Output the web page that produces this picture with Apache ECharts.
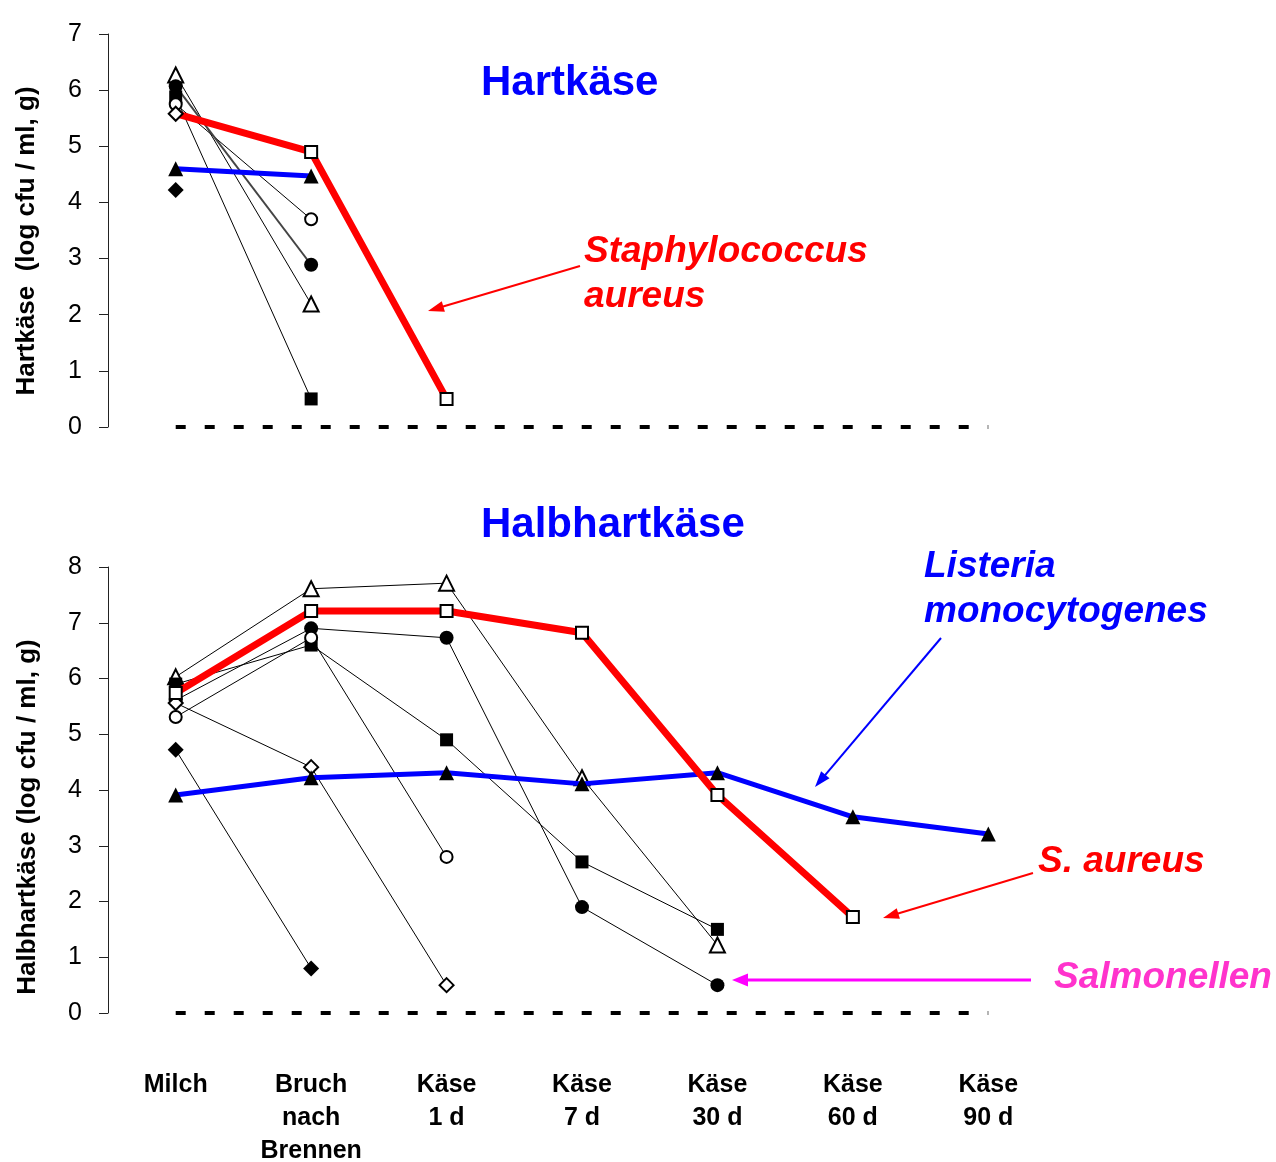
<!DOCTYPE html>
<html>
<head>
<meta charset="utf-8">
<script src="https://cdn.jsdelivr.net/npm/echarts@6/dist/echarts.min.js"></script>
<style>
html,body{margin:0;padding:0;background:#fff;}
#chart{width:1276px;height:1162px;}
</style>
</head>
<body>
<div id="chart"></div>
<script>
// ---------- data ----------
const categories = ['Milch', 'Bruch\nnach\nBrennen', 'Käse\n1 d', 'Käse\n7 d', 'Käse\n30 d', 'Käse\n60 d', 'Käse\n90 d'];
const zeroLine = [0, 0, 0, 0, 0, 0, 0];

// Hartkäse (top panel)
const hartSaureus       = [5.58, 4.90, 0.50, null, null, null, null];
const hartListeria      = [4.60, 4.47, null, null, null, null, null];
const hartOpenTri       = [6.27, 2.19, null, null, null, null, null];
const hartFilledCircle  = [6.07, 2.89, null, null, null, null, null];
const hartFilledSquare  = [5.88, 0.50, null, null, null, null, null];
const hartOpenCircle    = [5.75, 3.70, null, null, null, null, null];
const hartOpenDiamond   = [5.58, null, null, null, null, null, null];
const hartFilledDiamond = [4.22, null, null, null, null, null, null];

// Halbhartkäse (bottom panel)
const halbSaureus       = [5.74, 7.21, 7.21, 6.82, 3.91, 1.72, null];
const halbListeria      = [3.91, 4.22, 4.31, 4.11, 4.31, 3.52, 3.21];
const halbOpenTri       = [6.03, 7.61, 7.71, 4.22, 1.22, null, null];
const halbFilledCircle  = [5.61, 6.90, 6.73, 1.90, 0.50, null, null];
const halbFilledSquare  = [5.90, 6.60, 4.90, 2.71, 1.50, null, null];
const halbOpenCircle    = [5.31, 6.73, 2.80, null, null, null, null];
const halbOpenDiamond   = [5.56, 4.41, 0.50, null, null, null, null];
const halbFilledDiamond = [4.72, 0.80, null, null, null, null, null];

const topTicks = {min: 0, max: 7, interval: 1};
const bottomTicks = {min: 0, max: 8, interval: 1};

// ---------- styling helpers ----------
const FONT = '"Liberation Sans", Arial, Helvetica, sans-serif';

function symSize(symbol, open) {
  if (symbol === 'triangle') return 15;
  if (symbol === 'diamond') return open ? 14 : 16;
  if (symbol === 'circle') return open ? 12 : 14;
  return open ? 12 : 13;
}
function markerStyle(open) {
  return open ? {color: '#fff', borderColor: '#000', borderWidth: 2}
              : {color: '#000', borderColor: '#000', borderWidth: 0};
}
function thinSeries(idx, data, symbol, open, lineColor, lineWidth) {
  return {
    type: 'line', xAxisIndex: idx, yAxisIndex: idx, data: data,
    symbol: symbol, symbolSize: symSize(symbol, open), showSymbol: true,
    lineStyle: {color: lineColor || '#000', width: lineWidth || 1},
    itemStyle: markerStyle(open), silent: true, animation: false, z: 3
  };
}
function dashedZero(idx) {
  return {
    type: 'line', xAxisIndex: idx, yAxisIndex: idx, data: zeroLine,
    symbol: 'none', lineStyle: {color: '#000', width: 4, type: [10, 19], cap: 'butt'},
    silent: true, animation: false, z: 2
  };
}
function mainSeries(idx, data, color, width, symbol, open, z, hideFirst) {
  const d = data.map((v, i) => (hideFirst && i === 0) ? {value: v, symbol: 'none'} : v);
  return {
    type: 'line', xAxisIndex: idx, yAxisIndex: idx, data: d,
    symbol: symbol, symbolSize: symSize(symbol, open),
    lineStyle: {color: color, width: width},
    itemStyle: markerStyle(open), silent: true, animation: false, z: z
  };
}

function xAxisCfg(idx, showLabels) {
  return {
    type: 'category', gridIndex: idx, data: categories, boundaryGap: true,
    axisLine: {show: false}, axisTick: {show: false}, splitLine: {show: false},
    axisLabel: {
      show: showLabels, interval: 0, margin: 56,
      fontFamily: FONT, fontSize: 25, fontWeight: 'bold', color: '#000', lineHeight: 33
    }
  };
}
function yAxisCfg(idx, ticks) {
  return {
    type: 'value', gridIndex: idx, min: ticks.min, max: ticks.max, interval: ticks.interval,
    axisLine: {show: true, lineStyle: {color: '#222', width: 1}},
    axisTick: {show: true, inside: false, length: 9, lineStyle: {color: '#222'}},
    splitLine: {show: false},
    axisLabel: {margin: 26, fontFamily: FONT, fontSize: 25, color: '#000'}
  };
}

// ---------- annotations ----------
function arrow(x1, y1, x2, y2, color, width, headLen, headW) {
  const dx = x2 - x1, dy = y2 - y1, L = Math.sqrt(dx * dx + dy * dy);
  const ux = dx / L, uy = dy / L;
  const bx = x2 - ux * headLen, by = y2 - uy * headLen;
  const px = -uy * headW / 2, py = ux * headW / 2;
  return [
    {type: 'line', silent: true, shape: {x1: x1, y1: y1, x2: bx + ux * 2, y2: by + uy * 2},
     style: {stroke: color, lineWidth: width}},
    {type: 'polygon', silent: true, shape: {points: [[x2, y2], [bx + px, by + py], [bx - px, by - py]]},
     style: {fill: color}}
  ];
}
function label(x, y, text, color, size, italic) {
  return {
    type: 'text', x: x, y: y, silent: true,
    style: {text: text, fill: color, font: (italic ? 'italic ' : '') + 'bold ' + size + 'px ' + FONT,
            align: 'left', verticalAlign: 'middle'}
  };
}

const graphics = [].concat(
  [
    label(481, 83, 'Hartkäse', '#0000ff', 42, false),
    label(481, 525, 'Halbhartkäse', '#0000ff', 42, false),
    label(584, 252, 'Staphylococcus', '#ff0000', 37, true),
    label(584, 297, 'aureus', '#ff0000', 37, true),
    label(924, 567, 'Listeria', '#0000ff', 37, true),
    label(924, 612, 'monocytogenes', '#0000ff', 37, true),
    label(1038, 862, 'S. aureus', '#ff0000', 37, true),
    label(1054, 978, 'Salmonellen', '#ff33cc', 37, true),
    {type: 'text', x: 27, y: 241, rotation: Math.PI / 2, silent: true,
     style: {text: 'Hartkäse  (log cfu / ml, g)', fill: '#000', font: 'bold 26px ' + FONT,
             align: 'center', verticalAlign: 'middle'}},
    {type: 'text', x: 28, y: 817, rotation: Math.PI / 2, silent: true,
     style: {text: 'Halbhartkäse (log cfu / ml, g)', fill: '#000', font: 'bold 26px ' + FONT,
             align: 'center', verticalAlign: 'middle'}}
  ],
  arrow(580, 266, 428, 311, '#ff0000', 2, 16, 11),
  arrow(941, 638, 815, 787, '#0000ff', 2, 16, 11),
  arrow(1033, 873, 883, 918, '#ff0000', 2, 16, 11),
  arrow(1031, 980, 732, 980, '#ff00ff', 3, 16, 13)
);

// ---------- chart ----------
const chart = echarts.init(document.getElementById('chart'), null, {renderer: 'canvas'});
chart.setOption({
  backgroundColor: '#fff',
  animation: false,
  grid: [
    {left: 108, top: 34, width: 948, height: 393, containLabel: false, outerBoundsMode: 'none'},
    {left: 108, top: 567, width: 948, height: 446, containLabel: false, outerBoundsMode: 'none'}
  ],
  xAxis: [xAxisCfg(0, false), xAxisCfg(1, true)],
  yAxis: [yAxisCfg(0, topTicks), yAxisCfg(1, bottomTicks)],
  series: [
    dashedZero(0),
    thinSeries(0, hartOpenTri, 'triangle', true),
    thinSeries(0, hartFilledSquare, 'rect', false),
    thinSeries(0, hartOpenCircle, 'circle', true),
    thinSeries(0, hartFilledCircle, 'circle', false, '#444', 2),
    thinSeries(0, hartFilledDiamond, 'diamond', false),
    mainSeries(0, hartListeria, '#0000ff', 5, 'triangle', false, 4, false),
    mainSeries(0, hartSaureus, '#ff0000', 7, 'rect', true, 5, true),
    Object.assign(thinSeries(0, hartOpenDiamond, 'diamond', true), {z: 6}),

    dashedZero(1),
    thinSeries(1, halbOpenTri, 'triangle', true),
    thinSeries(1, halbFilledCircle, 'circle', false),
    thinSeries(1, halbFilledSquare, 'rect', false),
    thinSeries(1, halbOpenCircle, 'circle', true),
    thinSeries(1, halbOpenDiamond, 'diamond', true),
    thinSeries(1, halbFilledDiamond, 'diamond', false),
    mainSeries(1, halbListeria, '#0000ff', 5, 'triangle', false, 4, false),
    mainSeries(1, halbSaureus, '#ff0000', 7, 'rect', true, 5, false)
  ],
  graphic: graphics
});
</script>
</body>
</html>
